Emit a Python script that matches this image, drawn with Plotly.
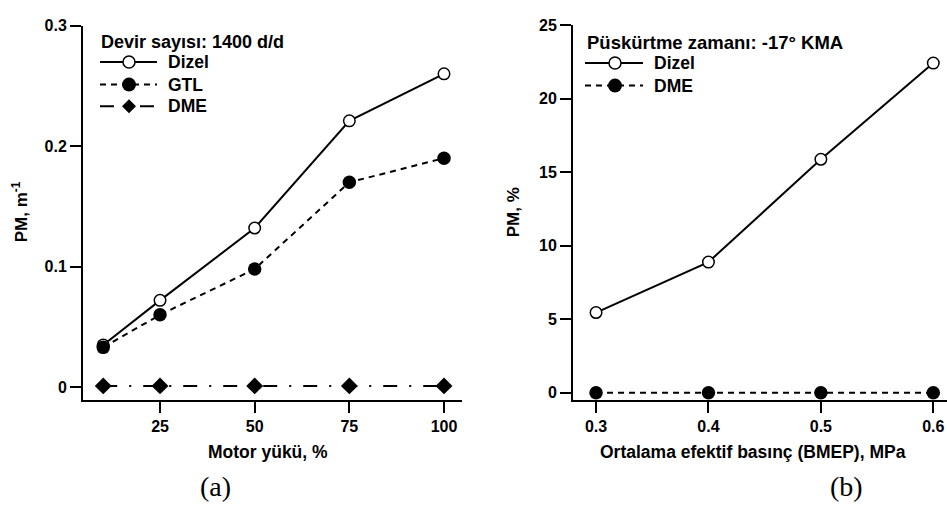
import plotly.graph_objects as go

# ---- data ----
load_pct = [10, 25, 50, 75, 100]
pm_a_dizel = [0.035, 0.072, 0.132, 0.221, 0.260]
pm_a_gtl = [0.033, 0.060, 0.098, 0.170, 0.190]
pm_a_dme = [0.001, 0.001, 0.001, 0.001, 0.001]

bmep = [0.3, 0.4, 0.5, 0.6]
pm_b_dizel = [5.45, 8.88, 15.87, 22.41]
pm_b_dme = [0.0, 0.0, 0.0, 0.0]

ticks_a_x = [25, 50, 75, 100]
ticks_a_y = [0, 0.1, 0.2, 0.3]
ticklabels_a_y = ["0", "0.1", "0.2", "0.3"]
ticks_b_x = [0.3, 0.4, 0.5, 0.6]
ticks_b_y = [0, 5, 10, 15, 20, 25]

# ---- layout helpers (pixel -> paper) ----
W, H = 947, 505
FONT = "Liberation Sans, Arial, sans-serif"
SERIF = "Liberation Serif, Times New Roman, serif"


def px(x):
    return x / W


def py(y):
    return 1 - y / H


DASH = "6px,5px"
DASHDOT = "14px,12px,2px,12px"

fig = go.Figure()

# panel (a)
fig.add_trace(go.Scatter(x=load_pct, y=pm_a_dizel, mode="lines+markers", name="Dizel",
                         line=dict(color="black", width=2),
                         marker=dict(symbol="circle", size=11.5, color="white",
                                     line=dict(color="black", width=1.5)),
                         xaxis="x", yaxis="y"))
fig.add_trace(go.Scatter(x=load_pct, y=pm_a_gtl, mode="lines+markers", name="GTL",
                         line=dict(color="black", width=2, dash=DASH),
                         marker=dict(symbol="circle", size=13.5, color="black"),
                         xaxis="x", yaxis="y"))
fig.add_trace(go.Scatter(x=load_pct, y=pm_a_dme, mode="lines+markers", name="DME",
                         line=dict(color="black", width=2, dash=DASHDOT),
                         marker=dict(symbol="diamond", size=13, color="black"),
                         xaxis="x", yaxis="y"))

# panel (b)
fig.add_trace(go.Scatter(x=bmep, y=pm_b_dizel, mode="lines+markers", name="Dizel",
                         line=dict(color="black", width=2),
                         marker=dict(symbol="circle", size=11.5, color="white",
                                     line=dict(color="black", width=1.5)),
                         xaxis="x2", yaxis="y2"))
fig.add_trace(go.Scatter(x=bmep, y=pm_b_dme, mode="lines+markers", name="DME",
                         line=dict(color="black", width=2, dash=DASH),
                         marker=dict(symbol="circle", size=13.5, color="black"),
                         xaxis="x2", yaxis="y2"))

axis_common = dict(showline=True, linecolor="black", linewidth=2, ticks="outside",
                   ticklen=11, tickwidth=2, tickcolor="black", showgrid=False,
                   zeroline=False, tickfont=dict(family=FONT, size=16, color="black", weight="bold"))

fig.update_layout(
    width=W, height=H, margin=dict(l=0, r=0, t=0, b=0),
    paper_bgcolor="white", plot_bgcolor="white", showlegend=False,
    xaxis=dict(domain=[px(83), px(462)], range=[4.66, 104.75], tickmode="array",
               tickvals=ticks_a_x, anchor="y", **axis_common),
    yaxis=dict(domain=[py(399), py(18)], range=[-0.0106, 0.3], tickmode="array",
               tickvals=ticks_a_y, ticktext=ticklabels_a_y, anchor="x", **axis_common),
    xaxis2=dict(domain=[px(573), 1.0], range=[0.2795, 0.6122], tickmode="array",
                tickvals=ticks_b_x, ticktext=["0.3", "0.4", "0.5", "0.6"], anchor="y2", **axis_common),
    yaxis2=dict(domain=[py(399), py(17.3)], range=[-0.487, 25], tickmode="array",
                tickvals=ticks_b_y, anchor="x2", **axis_common),
)

annotations = []
shapes = []


def text(x, y, s, size=17, xanchor="left", family=FONT, bold=True, angle=0):
    annotations.append(dict(x=px(x), y=py(y), xref="paper", yref="paper", text=s,
                            showarrow=False, xanchor=xanchor, yanchor="middle",
                            textangle=angle,
                            font=dict(family=family, size=size, color="black",
                                      weight="bold" if bold else "normal")))


# axis titles
text(268, 452, "Motor yükü, %", size=17.5, xanchor="center")
text(20, 208, "PM, m<sup>-1</sup>", size=17, xanchor="center", angle=-90)
text(753, 452, "Ortalama efektif basınç (BMEP), MPa", size=17.5, xanchor="center")
text(513, 208, "PM, %", size=17, xanchor="center", angle=-90)

# panel labels
text(215, 487, "(a)", size=28, xanchor="center", family=SERIF, bold=False)
text(846, 487, "(b)", size=28, xanchor="center", family=SERIF, bold=False)


def legend_item(x0, x1, xm, y, dash, symbol, label):
    shapes.append(dict(type="line", xref="paper", yref="paper", x0=px(x0), x1=px(x1),
                       y0=py(y), y1=py(y), line=dict(color="black", width=2, dash=dash)))
    if symbol == "open":
        shapes.append(dict(type="circle", xref="paper", yref="paper", xsizemode="pixel",
                           ysizemode="pixel", xanchor=px(xm), yanchor=py(y),
                           x0=-6, x1=6, y0=-6, y1=6, fillcolor="white",
                           line=dict(color="black", width=1.5)))
    elif symbol == "filled":
        shapes.append(dict(type="circle", xref="paper", yref="paper", xsizemode="pixel",
                           ysizemode="pixel", xanchor=px(xm), yanchor=py(y),
                           x0=-7, x1=7, y0=-7, y1=7, fillcolor="black",
                           line=dict(color="black", width=0)))
    else:
        shapes.append(dict(type="path", xref="paper", yref="paper", xsizemode="pixel",
                           ysizemode="pixel", xanchor=px(xm), yanchor=py(y),
                           path="M -7 0 L 0 7 L 7 0 L 0 -7 Z", fillcolor="black",
                           line=dict(color="black", width=0)))
    text(x1 + 9, y, label, size=17.5)


# legend, panel (a)
text(99, 35, "Devir sayısı: 1400 d/d", size=18)
legend_item(100, 157, 129, 55, "solid", "open", "Dizel")
legend_item(100, 157, 129, 78, DASH, "filled", "GTL")
legend_item(100, 157, 129, 100, DASHDOT, "diamond", "DME")

# legend, panel (b)
text(585, 35, "Püskürtme zamanı: -17° KMA", size=18.5)
legend_item(585, 643, 615, 56, "solid", "open", "Dizel")
legend_item(585, 643, 615, 79, DASH, "filled", "DME")

fig.update_layout(annotations=annotations, shapes=shapes)

fig.write_html("out.html")
